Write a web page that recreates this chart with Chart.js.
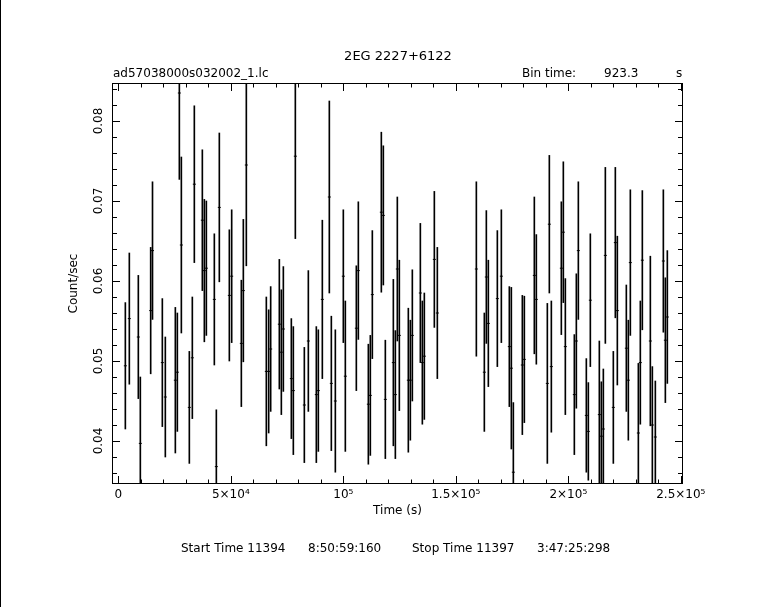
<!DOCTYPE html>
<html>
<head>
<meta charset="utf-8">
<script src="https://cdn.jsdelivr.net/npm/chart.js@4/dist/chart.umd.min.js"></script>
<style>
  html, body { margin: 0; padding: 0; background: #fff; }
  canvas { display: block; }
</style>
</head>
<body>
<canvas id="lc" width="770" height="607"></canvas>
<script>
// === Data ===
const binTime = 923.3;

const times = [
  3130, 4900, 8900, 9790, 14390, 15200, 19570, 20900, 25350, 26240,
  27130, 28020, 31570, 32900, 33790, 37350, 38240, 39130, 42680, 43570,
  44900, 49350, 50390, 54680, 55570, 56900, 65790, 66830, 67720, 71570,
  72460, 73350, 76900, 77790, 78680, 82680, 84460, 88010, 88900, 90680,
  93790, 94680, 96460, 100010, 100900, 105790, 106680, 111130, 112010, 112900,
  116900, 117790, 118680, 122240, 123130, 124010, 124900, 128900, 129790, 130680,
  134240, 135130, 136010, 140460, 141790, 159130, 162680, 163570, 164460, 168460,
  170240, 173790, 174680, 175570, 179570, 180460, 184900, 185790, 190680, 191570,
  192460, 196900, 197790, 198680, 202680, 203570, 204460, 208010, 208900, 209790,
  213790, 214680, 215570, 216460, 220010, 220900, 221790, 225790, 226680, 227570,
  231130, 232010, 232900, 236460, 237350, 238680, 242240, 243130, 244010
];

const rates = [
  0.0494, 0.0553, 0.0530, 0.0397, 0.0563, 0.0638, 0.0498, 0.0455, 0.0476, 0.0486,
  0.0835, 0.0645, 0.0442, 0.0504, 0.0721, 0.0676, 0.0613, 0.0616, 0.0577, 0.0368,
  0.0692, 0.0582, 0.0606, 0.0522, 0.0588, 0.0745, 0.0487, 0.0487, 0.0515, 0.0546,
  0.0511, 0.0540, 0.0478, 0.0463, 0.0756, 0.0445, 0.0525, 0.0458, 0.0463, 0.0577,
  0.0705, 0.0472, 0.0450, 0.0606, 0.0481, 0.0541, 0.0613, 0.0446, 0.0457, 0.0583,
  0.0686, 0.0682, 0.0452, 0.0498, 0.0458, 0.0615, 0.0532, 0.0476, 0.0476, 0.0532,
  0.0585, 0.0498, 0.0506, 0.0627, 0.0560, 0.0615, 0.0486, 0.0605, 0.0547, 0.0578,
  0.0606, 0.0518, 0.0491, 0.0361, 0.0495, 0.0502, 0.0607, 0.0577, 0.0472, 0.0671,
  0.0493, 0.0616, 0.0661, 0.0518, 0.0458, 0.0525, 0.0638, 0.0432, 0.0412, 0.0576,
  0.0433, 0.0406, 0.0415, 0.0632, 0.0442, 0.0648, 0.0563, 0.0516, 0.0476, 0.0623,
  0.0410, 0.0498, 0.0626, 0.0525, 0.0420, 0.0405, 0.0625, 0.0526, 0.0555
];

const errors = [
  0.0079, 0.0082, 0.0077, 0.0083, 0.0079, 0.0086, 0.0080, 0.0075, 0.0091, 0.0074,
  0.0108, 0.0110, 0.0070, 0.0076, 0.0098, 0.0088, 0.0089, 0.0084, 0.0082, 0.0071,
  0.0093, 0.0082, 0.0083, 0.0079, 0.0089, 0.0126, 0.0093, 0.0077, 0.0078, 0.0081,
  0.0078, 0.0078, 0.0075, 0.0080, 0.0103, 0.0072, 0.0088, 0.0085, 0.0076, 0.0099,
  0.0120, 0.0084, 0.0089, 0.0083, 0.0094, 0.0078, 0.0086, 0.0075, 0.0075, 0.0080,
  0.0100, 0.0087, 0.0074, 0.0104, 0.0080, 0.0090, 0.0094, 0.0090, 0.0075, 0.0082,
  0.0087, 0.0077, 0.0079, 0.0085, 0.0082, 0.0109, 0.0074, 0.0083, 0.0079, 0.0085,
  0.0083, 0.0075, 0.0101, 0.0087, 0.0087, 0.0079, 0.0098, 0.0081, 0.0100, 0.0086,
  0.0082, 0.0083, 0.0088, 0.0085, 0.0075, 0.0084, 0.0086, 0.0071, 0.0061, 0.0083,
  0.0092, 0.0068, 0.0075, 0.0110, 0.0070, 0.0094, 0.0093, 0.0079, 0.0075, 0.0091,
  0.0087, 0.0077, 0.0087, 0.0106, 0.0073, 0.0070, 0.0089, 0.0078, 0.0083
];

// axis ticks
const xTickValues = [0, 50000, 100000, 150000, 200000, 250000];
const xTickLabels = ['0', '5×10⁴', '10⁵', '1.5×10⁵', '2×10⁵', '2.5×10⁵'];
const xMinorStep = 10000;
const yTickValues = [0.04, 0.05, 0.06, 0.07, 0.08];
const yTickLabels = ['0.04', '0.05', '0.06', '0.07', '0.08'];
const yMinorStep = 0.002;

const FONT = '"DejaVu Sans", sans-serif';

// === Frame, inward ticks and all the header/footer text ===
const framePlugin = {
  id: 'frame',
  afterDraw(chart) {
    const ctx = chart.ctx;
    const a = chart.chartArea;
    const xs = chart.scales.x, ys = chart.scales.y;
    ctx.save();
    ctx.strokeStyle = '#000';
    ctx.fillStyle = '#000';
    ctx.lineWidth = 1;

    // left page edge line
    ctx.fillRect(0, 0, 1, chart.height);

    // frame
    ctx.strokeRect(a.left - 0.5, a.top - 0.5, a.right - a.left + 1, a.bottom - a.top + 1);

    // x ticks (top & bottom)
    ctx.beginPath();
    for (let v = 0; v <= xs.max + 1; v += xMinorStep) {
      const px = Math.round(xs.getPixelForValue(v)) + 0.5;
      const len = (v % 50000 === 0) ? 7 : 3.5;
      ctx.moveTo(px, a.bottom); ctx.lineTo(px, a.bottom - len);
      ctx.moveTo(px, a.top); ctx.lineTo(px, a.top + len);
    }
    // y ticks (left & right)
    for (let k = 18; k <= 42; k++) {
      const v = k * yMinorStep;
      if (v < ys.min || v > ys.max) continue;
      const py = Math.round(ys.getPixelForValue(v)) + 0.5;
      const len = (k % 5 === 0) ? 7 : 4;
      ctx.moveTo(a.left, py); ctx.lineTo(a.left + len, py);
      ctx.moveTo(a.right, py); ctx.lineTo(a.right - len, py);
    }
    ctx.stroke();

    // texts
    ctx.textBaseline = 'middle';
    ctx.font = '13px ' + FONT;
    ctx.textAlign = 'center';
    ctx.fillText('2EG 2227+6122', 398, 57);

    ctx.font = '12px ' + FONT;
    ctx.textAlign = 'left';
    ctx.fillText('ad57038000s032002_1.lc', 113, 74);
    ctx.fillText('Bin time:', 522, 74);
    ctx.fillText(String(binTime), 604, 74);
    ctx.fillText('s', 676, 74);

    ctx.textAlign = 'center';
    ctx.fillText('Time (s)', (a.left + a.right) / 2, 511);

    ctx.textAlign = 'left';
    ctx.fillText('Start Time 11394', 181, 549);
    ctx.fillText('8:50:59:160', 308, 549);
    ctx.fillText('Stop Time 11397', 412, 549);
    ctx.fillText('3:47:25:298', 537, 549);

    ctx.translate(74, (a.top + a.bottom) / 2);
    ctx.rotate(-Math.PI / 2);
    ctx.textAlign = 'center';
    ctx.fillText('Count/sec', 0, 0);
    ctx.restore();
  }
};

new Chart(document.getElementById('lc'), {
  type: 'bar',
  data: {
    datasets: [
      {
        type: 'bar',
        data: times.map((t, i) => ({ x: t, y: [rates[i] - errors[i], rates[i] + errors[i]] })),
        backgroundColor: '#000',
        borderWidth: 0,
        barThickness: 1,
        grouped: false,
        clip: 0
      },
      {
        type: 'scatter',
        data: times.map((t, i) => ({ x: t, y: rates[i] })),
        pointStyle: 'line',
        pointRadius: 1.5,
        borderColor: '#000',
        borderWidth: 1,
        showLine: false,
        clip: 0
      }
    ]
  },
  options: {
    responsive: false,
    animation: false,
    events: [],
    layout: { padding: { left: 0, top: 84, right: 88, bottom: 94 } },
    plugins: { legend: { display: false }, tooltip: { enabled: false } },
    scales: {
      x: {
        type: 'linear',
        position: 'bottom',
        offset: false,
        min: -2356,
        max: 250530,
        grid: { display: false, drawTicks: false },
        border: { display: false },
        afterBuildTicks: s => { s.ticks = xTickValues.map(v => ({ value: v })); },
        afterFit: s => { s.height = 30; },
        ticks: {
          autoSkip: false,
          maxRotation: 0,
          padding: 5,
          color: '#000',
          font: { family: FONT, size: 12 },
          callback: v => xTickLabels[xTickValues.indexOf(v)]
        }
      },
      y: {
        type: 'linear',
        position: 'left',
        min: 0.03475,
        max: 0.084625,
        grid: { display: false, drawTicks: false },
        border: { display: false },
        afterBuildTicks: s => { s.ticks = yTickValues.map(v => ({ value: v })); },
        afterFit: s => { s.width = 113; },
        ticks: {
          autoSkip: false,
          minRotation: 90,
          maxRotation: 90,
          crossAlign: 'center',
          padding: 1,
          color: '#000',
          font: { family: FONT, size: 12 },
          callback: v => yTickLabels[yTickValues.indexOf(v)]
        }
      }
    }
  },
  plugins: [framePlugin]
});
</script>
</body>
</html>
